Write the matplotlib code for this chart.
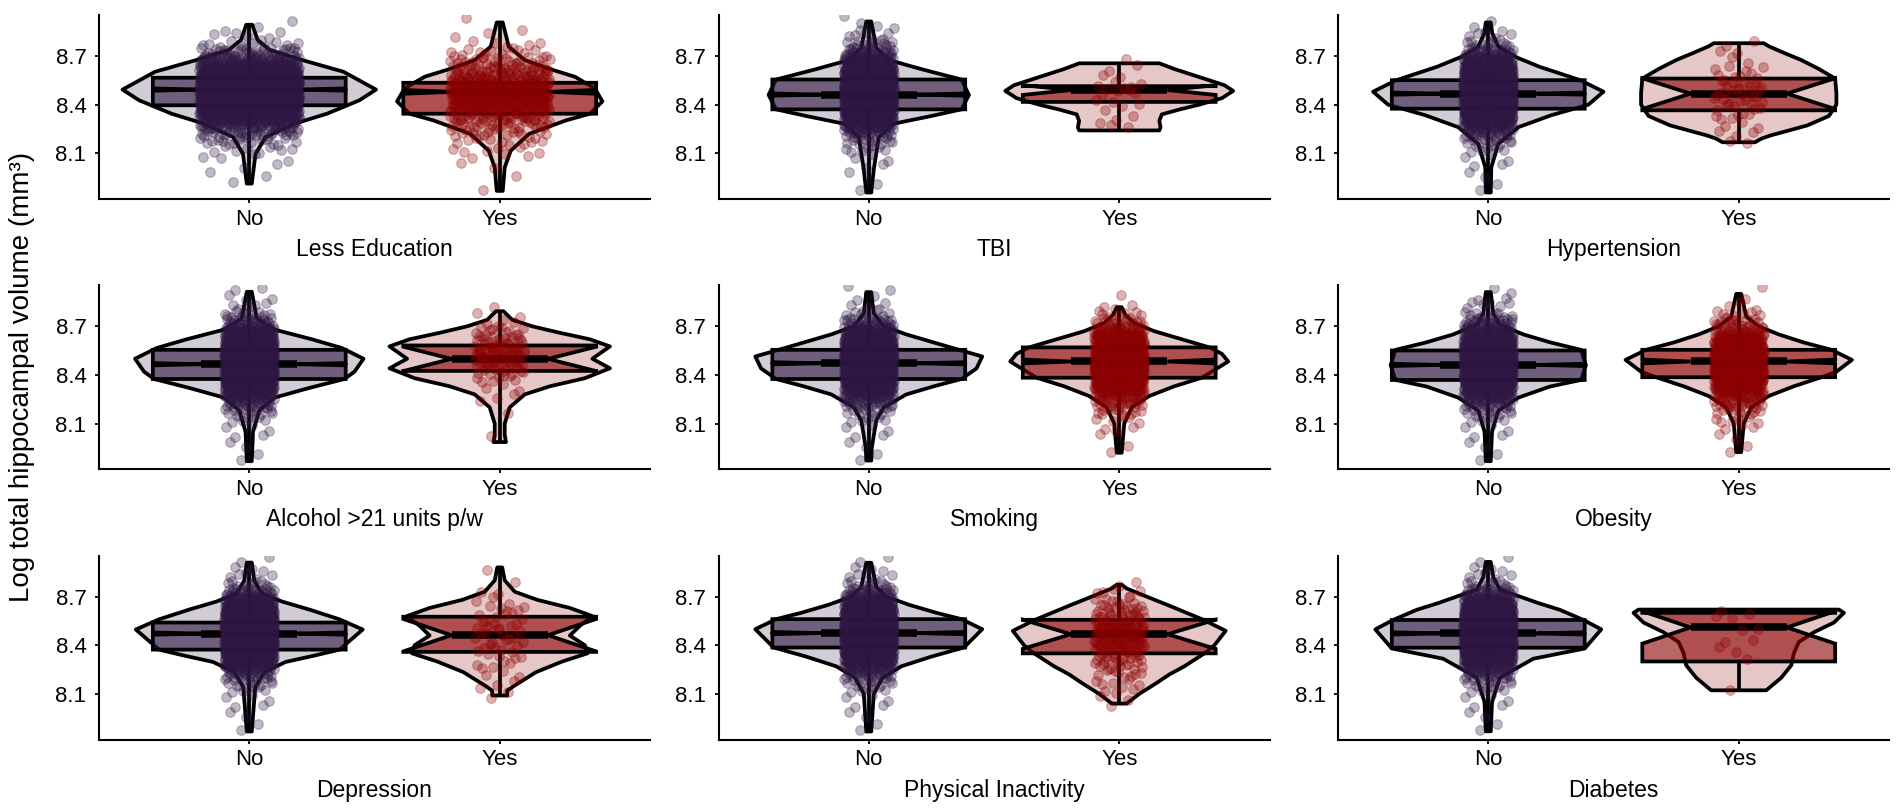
import matplotlib.pyplot as plt
import numpy as np
from matplotlib.colors import to_rgba

plt.rcParams["font.family"] = ["Liberation Sans", "DejaVu Sans"]

panels = ["Less Education", "TBI", "Hypertension",
          "Alcohol >21 units p/w", "Smoking", "Obesity",
          "Depression", "Physical Inactivity", "Diabetes"]
groups = ["No", "Yes"]
y_ticks = [8.1, 8.4, 8.7]

# min, q1, median, q3, max, notch half-height
box_no = {
    "Less Education": (7.913, 8.396, 8.493, 8.566, 8.893, 0.007),
    "TBI": (7.858, 8.371, 8.462, 8.555, 8.913, 0.007),
    "Hypertension": (7.858, 8.375, 8.468, 8.551, 8.907, 0.007),
    "Alcohol >21 units p/w": (7.868, 8.375, 8.466, 8.555, 8.913, 0.007),
    "Smoking": (7.872, 8.375, 8.472, 8.555, 8.911, 0.007),
    "Obesity": (7.868, 8.369, 8.462, 8.551, 8.911, 0.007),
    "Depression": (7.868, 8.373, 8.472, 8.540, 8.910, 0.007),
    "Physical Inactivity": (7.868, 8.386, 8.475, 8.561, 8.909, 0.007),
    "Diabetes": (7.869, 8.385, 8.473, 8.556, 8.914, 0.007),
}
box_yes = {
    "Less Education": (7.868, 8.344, 8.479, 8.535, 8.907, 0.012),
    "TBI": (8.241, 8.417, 8.490, 8.514, 8.655, 0.030),
    "Hypertension": (8.168, 8.365, 8.468, 8.561, 8.779, 0.095),
    "Alcohol >21 units p/w": (7.986, 8.425, 8.499, 8.582, 8.793, 0.075),
    "Smoking": (7.920, 8.383, 8.483, 8.570, 8.818, 0.012),
    "Obesity": (7.924, 8.386, 8.483, 8.555, 8.900, 0.012),
    "Depression": (8.090, 8.359, 8.462, 8.576, 8.880, 0.100),
    "Physical Inactivity": (8.040, 8.350, 8.468, 8.557, 8.773, 0.090),
    "Diabetes": (8.122, 8.300, 8.510, 8.600, 8.615, 0.100),
}

# violin outline: (y, half width)
violin_no = {
    "Less Education": [(7.913, 0.01), (8.096, 0.025), (8.2, 0.065), (8.282, 0.18), (8.344, 0.31),
                       (8.427, 0.44), (8.493, 0.506), (8.603, 0.376), (8.675, 0.212), (8.737, 0.082),
                       (8.80, 0.033), (8.893, 0.012)],
    "TBI": [(7.858, 0.01), (8.0, 0.02), (8.2, 0.04), (8.282, 0.098), (8.33, 0.25), (8.371, 0.37),
            (8.46, 0.40), (8.555, 0.37), (8.615, 0.22), (8.675, 0.08), (8.75, 0.03), (8.913, 0.01)],
    "Hypertension": [(7.858, 0.01), (8.013, 0.012), (8.158, 0.04), (8.261, 0.12), (8.334, 0.25),
                     (8.4, 0.40), (8.48, 0.46), (8.551, 0.367), (8.634, 0.204), (8.696, 0.106),
                     (8.758, 0.04), (8.84, 0.016), (8.907, 0.01)],
    "Alcohol >21 units p/w": [(7.868, 0.01), (8.05, 0.015), (8.18, 0.04), (8.26, 0.1), (8.32, 0.24),
                              (8.375, 0.38), (8.42, 0.42), (8.50, 0.456), (8.566, 0.37), (8.62, 0.25),
                              (8.68, 0.1), (8.75, 0.03), (8.913, 0.01)],
    "Smoking": [(7.872, 0.01), (7.95, 0.012), (8.12, 0.03), (8.2, 0.06), (8.28, 0.15), (8.33, 0.26),
                (8.375, 0.37), (8.44, 0.43), (8.514, 0.453), (8.555, 0.36), (8.6, 0.26), (8.65, 0.15),
                (8.7, 0.06), (8.78, 0.02), (8.911, 0.01)],
    "Obesity": [(7.868, 0.01), (8.05, 0.015), (8.18, 0.04), (8.26, 0.12), (8.328, 0.245), (8.369, 0.37),
                (8.46, 0.39), (8.555, 0.37), (8.6, 0.25), (8.65, 0.14), (8.71, 0.046), (8.78, 0.02),
                (8.911, 0.01)],
    "Depression": [(7.868, 0.01), (8.141, 0.024), (8.234, 0.06), (8.297, 0.145), (8.338, 0.265),
                   (8.373, 0.36), (8.497, 0.453), (8.56, 0.36), (8.62, 0.24), (8.67, 0.13),
                   (8.72, 0.05), (8.8, 0.02), (8.91, 0.01)],
    "Physical Inactivity": [(7.868, 0.01), (8.1, 0.02), (8.2, 0.055), (8.27, 0.13), (8.33, 0.25),
                            (8.386, 0.38), (8.499, 0.453), (8.561, 0.37), (8.6, 0.27), (8.65, 0.16),
                            (8.7, 0.07), (8.76, 0.03), (8.909, 0.01)],
    "Diabetes": [(7.869, 0.01), (8.05, 0.015), (8.2, 0.046), (8.317, 0.18), (8.38, 0.385),
                 (8.498, 0.451), (8.556, 0.38), (8.619, 0.285), (8.66, 0.2), (8.744, 0.046),
                 (8.82, 0.02), (8.914, 0.01)],
}
violin_yes = {
    "Less Education": [(7.868, 0.012), (8.013, 0.02), (8.116, 0.044), (8.22, 0.118), (8.303, 0.265),
                       (8.344, 0.36), (8.42, 0.41), (8.5, 0.38), (8.572, 0.30), (8.62, 0.2),
                       (8.675, 0.1), (8.758, 0.036), (8.907, 0.012)],
    "TBI": [(8.241, 0.16), (8.26, 0.165), (8.30, 0.16), (8.34, 0.17), (8.37, 0.24), (8.40, 0.32),
            (8.44, 0.41), (8.485, 0.455), (8.52, 0.42), (8.57, 0.32), (8.62, 0.22), (8.655, 0.16)],
    "Hypertension": [(8.168, 0.065), (8.19, 0.09), (8.21, 0.127), (8.272, 0.274), (8.33, 0.36),
                     (8.40, 0.39), (8.47, 0.39), (8.561, 0.385), (8.62, 0.32), (8.675, 0.25),
                     (8.72, 0.18), (8.76, 0.12), (8.779, 0.1)],
    "Alcohol >21 units p/w": [(7.986, 0.025), (8.03, 0.02), (8.1, 0.02), (8.2, 0.04), (8.28, 0.1),
                              (8.33, 0.2), (8.38, 0.34), (8.441, 0.44), (8.50, 0.37), (8.576, 0.44),
                              (8.62, 0.36), (8.66, 0.24), (8.70, 0.13), (8.74, 0.05), (8.793, 0.015)],
    "Smoking": [(7.92, 0.01), (8.1, 0.02), (8.2, 0.05), (8.27, 0.12), (8.33, 0.22), (8.383, 0.33),
                (8.43, 0.38), (8.483, 0.435), (8.53, 0.41), (8.57, 0.36), (8.62, 0.25), (8.67, 0.14),
                (8.72, 0.06), (8.77, 0.025), (8.818, 0.01)],
    "Obesity": [(7.924, 0.01), (8.1, 0.02), (8.2, 0.05), (8.27, 0.12), (8.33, 0.22), (8.386, 0.33),
                (8.42, 0.39), (8.493, 0.452), (8.555, 0.37), (8.6, 0.26), (8.65, 0.16), (8.7, 0.08),
                (8.76, 0.03), (8.9, 0.01)],
    "Depression": [(8.09, 0.03), (8.12, 0.03), (8.152, 0.06), (8.234, 0.145), (8.30, 0.25),
                   (8.35, 0.35), (8.40, 0.34), (8.46, 0.28), (8.52, 0.32), (8.58, 0.37),
                   (8.63, 0.28), (8.68, 0.15), (8.73, 0.06), (8.8, 0.02), (8.88, 0.01)],
    "Physical Inactivity": [(8.04, 0.03), (8.048, 0.036), (8.1, 0.08), (8.168, 0.15), (8.22, 0.2),
                            (8.27, 0.26), (8.35, 0.34), (8.4, 0.38), (8.489, 0.425), (8.557, 0.336),
                            (8.644, 0.2), (8.706, 0.1), (8.75, 0.03), (8.773, 0.01)],
    "Diabetes": [(8.122, 0.11), (8.2, 0.17), (8.277, 0.21), (8.35, 0.22), (8.42, 0.24), (8.48, 0.3),
                 (8.54, 0.38), (8.6, 0.42), (8.62, 0.4)],
}

# jittered points: counts per 0.05 bin starting at 7.85
bin_start = 7.85
bin_step = 0.05
counts_no = {
    "Less Education": [0, 1, 2, 2, 4, 8, 16, 32, 65, 120, 190, 250, 280, 260, 200, 130, 70, 32, 12, 5, 2, 1],
    "TBI": [1, 1, 1, 2, 3, 6, 12, 25, 50, 90, 140, 175, 190, 175, 140, 95, 55, 30, 14, 6, 3, 2],
    "Hypertension": [1, 1, 2, 2, 3, 6, 12, 25, 50, 90, 140, 175, 190, 175, 140, 95, 55, 28, 12, 5, 2, 1],
    "Alcohol >21 units p/w": [1, 1, 2, 2, 3, 6, 12, 25, 50, 90, 140, 170, 185, 170, 135, 90, 52, 26, 12, 5, 3, 2],
    "Smoking": [1, 1, 2, 2, 3, 5, 10, 22, 45, 80, 125, 155, 165, 155, 125, 85, 48, 24, 10, 4, 2, 2],
    "Obesity": [1, 1, 2, 2, 3, 6, 12, 24, 48, 85, 130, 160, 175, 160, 130, 88, 50, 26, 11, 5, 3, 2],
    "Depression": [1, 1, 2, 2, 3, 6, 12, 25, 50, 90, 140, 175, 190, 175, 140, 95, 55, 28, 12, 5, 3, 2],
    "Physical Inactivity": [1, 1, 2, 2, 3, 6, 12, 25, 50, 90, 140, 175, 190, 175, 140, 95, 55, 28, 12, 5, 3, 2],
    "Diabetes": [1, 1, 2, 2, 3, 6, 12, 25, 50, 90, 140, 175, 190, 175, 140, 95, 55, 28, 12, 5, 3, 2],
}
counts_yes = {
    "Less Education": [1, 0, 1, 2, 3, 6, 10, 16, 25, 40, 60, 75, 80, 70, 55, 38, 22, 12, 5, 2, 1, 1],
    "TBI": [0, 0, 0, 0, 0, 0, 0, 0, 3, 2, 2, 3, 5, 5, 2, 2, 1, 0, 0, 0, 0, 0],
    "Hypertension": [0, 0, 0, 0, 0, 0, 2, 3, 3, 5, 6, 8, 9, 8, 6, 4, 2, 2, 2, 0, 0, 0],
    "Alcohol >21 units p/w": [0, 0, 0, 1, 0, 0, 1, 1, 2, 3, 6, 12, 18, 22, 20, 16, 9, 4, 2, 1, 0, 0],
    "Smoking": [0, 1, 1, 1, 3, 5, 10, 20, 35, 60, 95, 125, 140, 130, 100, 65, 38, 18, 8, 3, 1, 0],
    "Obesity": [0, 1, 1, 2, 3, 6, 10, 20, 35, 55, 85, 110, 120, 110, 85, 55, 30, 15, 7, 3, 1, 1],
    "Depression": [0, 0, 0, 0, 1, 2, 2, 3, 4, 5, 6, 6, 6, 7, 6, 5, 3, 2, 1, 0, 1, 0],
    "Physical Inactivity": [0, 0, 0, 1, 2, 4, 5, 8, 12, 16, 22, 28, 30, 26, 20, 14, 8, 5, 2, 0, 0, 0],
    "Diabetes": [0, 0, 0, 0, 0, 1, 0, 0, 0, 1, 2, 2, 1, 1, 3, 1, 0, 0, 0, 0, 0, 0],
}

colors = {"No": "#2E1743", "Yes": "#8B0000"}
jitter = {"Less Education": 0.2}


def halton(i, base):
    f, r = 1.0, 0.0
    while i > 0:
        f /= base
        r += f * (i % base)
        i //= base
    return r


def draw_group(ax, xc, box, prof, counts, color, jw):
    lw = 2.7
    ys = np.array([p[0] for p in prof])
    ws = np.array([p[1] for p in prof])
    ax.fill(np.concatenate([xc + ws, (xc - ws)[::-1]]), np.concatenate([ys, ys[::-1]]),
            facecolor=to_rgba(color, 0.22), edgecolor="black", lw=lw, zorder=1, joinstyle="round")

    mn, q1, med, q3, mx, n = box
    ax.plot([xc, xc], [q3, mx], color="black", lw=lw, zorder=2, solid_capstyle="butt")
    ax.plot([xc, xc], [mn, q1], color="black", lw=lw, zorder=2, solid_capstyle="butt")
    # notched box (notch width half of the box), as ggplot draws it
    hw, nw = 0.385, 0.1925
    bx = [xc - hw, xc - hw, xc - nw, xc - hw, xc - hw, xc + hw, xc + hw, xc + nw, xc + hw, xc + hw]
    by = [q3, med + n, med, med - n, q1, q1, med - n, med, med + n, q3]
    ax.fill(bx, by, facecolor=to_rgba(color, 0.6), edgecolor="black", lw=lw, zorder=3)
    ax.plot([xc - nw, xc + nw], [med, med], color="black", lw=2 * lw, zorder=3.5, solid_capstyle="butt")

    px, py = [], []
    k = 1
    for b, c in enumerate(counts):
        lo = bin_start + b * bin_step
        for _ in range(c):
            py.append(lo + bin_step * halton(k, 2))
            px.append(xc + jw * (2 * halton(k, 3) - 1))
            k += 1
    ax.scatter(px, py, s=48, facecolor=to_rgba(color, 0.3), edgecolor=to_rgba(color, 0.3),
               linewidths=0.8, zorder=4)


fig = plt.figure(figsize=(19.02, 8.11), dpi=100)
lefts = [99, 718.5, 1338]
tops = [15, 285.3, 555.6]
pw, ph = 551, 184

for i, name in enumerate(panels):
    r, c = divmod(i, 3)
    ax = fig.add_axes([lefts[c] / 1902, 1 - (tops[r] + ph) / 811, pw / 1902, ph / 811])
    jw = jitter.get(name, 0.1)
    draw_group(ax, 1, box_no[name], violin_no[name], counts_no[name], colors["No"], jw)
    draw_group(ax, 2, box_yes[name], violin_yes[name], counts_yes[name], colors["Yes"], jw)
    ax.set_xlim(0.4, 2.6)
    ax.set_ylim(7.818, 8.953)
    ax.set_xticks([1, 2])
    ax.set_xticklabels(groups)
    ax.set_yticks(y_ticks)
    ax.set_yticklabels([f"{t:.1f}" for t in y_ticks])
    ax.tick_params(axis="both", labelsize=16, length=3, width=1.3, colors="black")
    ax.tick_params(axis="x", pad=4)
    ax.tick_params(axis="y", pad=6)
    ax.set_xlabel(name, fontsize=16.5, labelpad=6)
    for s in ["top", "right"]:
        ax.spines[s].set_visible(False)
    for s in ["left", "bottom"]:
        ax.spines[s].set_linewidth(1.5)

fig.text(0.0115, 0.535, "Log total hippocampal volume (mm³)", rotation=90,
         ha="center", va="center", fontsize=20)

fig.savefig("out.png", dpi=100)
